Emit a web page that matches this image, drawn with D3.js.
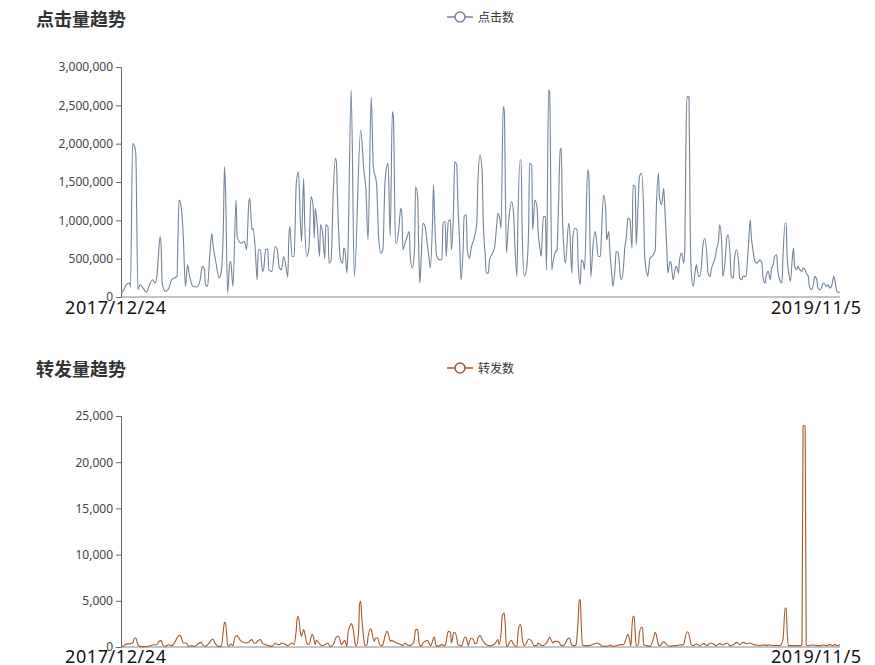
<!DOCTYPE html>
<html><head><meta charset="utf-8">
<script src="https://cdn.jsdelivr.net/npm/d3@7/dist/d3.min.js"></script>
<style>body{margin:0;background:#fff}svg{display:block}</style>
</head><body>
<svg id="c" width="875" height="665"></svg>
<script>
// ---- data (category index = days since 2017/12/24) ----
const firstDate = "2017/12/24";
const lastDate = "2019/11/5";
const dayCount = 681;
const clickTitle = "点击量趋势", clickName = "点击数";
const shareTitle = "转发量趋势", shareName = "转发数";
const clickTicks = [0,500000,1000000,1500000,2000000,2500000,3000000];
const shareTicks = [0,5000,10000,15000,20000,25000];

const clickDay = [0,2,5,8,9,11,13,14,16,18,21,24,27,30,32,34,35,37,38,39,42,45,48,53,54,55,57,59,61,63,65,68,72,75,77,79,80,82,84,86,87,90,93,95,97,98,99,101,103,104,106,109,110,112,114,117,119,121,122,124,125,127,129,130,132,134,135,137,139,140,143,146,148,150,152,154,156,158,159,160,162,164,166,168,170,171,173,174,176,178,180,182,183,184,186,188,189,191,193,194,196,197,199,201,203,204,
205,207,208,210,211,212,214,215,218,221,227,230,232,234,237,239,242,244,246,248,250,252,253,255,257,258,260,261,263,265,266,267,269,271,273,274,276,278,279,281,282,283,284,286,288,290,292,293,295,296,297,299,302,304,305,307,308,310,312,313,315,316,318,319,321,322,324,325,327,328,330,332,334,337,338,340,342,343,345,346,348,349,352,354,356,357,359,360,362,363,365,367,370,372,373,375,376,378,379,380,382,384,386,387,389,390,392,394,395,397,398,400,402,403,405,406,408,409,411,413,414,416,417,418,420,421,424,425,427,428,430,432,433,435,436,438,439,442,443,445,447,449,450,452,454,
455,457,459,460,462,463,465,466,468,469,471,473,474,476,477,479,480,482,484,485,487,488,490,491,493,495,496,498,499,501,503,504,506,507,509,510,512,514,515,517,518,520,521,523,525,526,528,529,531,533,534,535,536,538,539,540,542,544,545,547,548,550,551,553,555,556,558,559,561,563,564,566,567,569,570,572,574,575,577,578,580,581,583,585,586,588,589,592,594,596,597,599,600,602,604,605,607,608,610,611,613,615,616,618,619,621,622,624,626,627,629,630,631,633,634,636,637,638,640,641,643,645,646,648,649,651,652,654,656,657,659,660,662,664,665,667,668,670,671,673,675,676,678,679,681];
const clickVal = [60,75,160,182,130,2003,1960,1873,95,160,117,61,160,225,182,269,442,789,659,182,74,104,225,269,789,1266,1179,789,139,420,269,139,130,225,399,364,160,139,529,832,702,442,247,334,962,1699,1396,52,442,464,139,1266,789,724,702,724,616,1222,1287,876,897,659,225,616,616,334,355,616,624,355,334,659,616,377,355,529,420,260,789,919,529,529,1483,1634,962,724,1548,962,529,637,1309,1179,767,1157,919,529,941,832,507,941,919,442,485,1353,1808,1764,
1309,616,485,442,637,616,312,616,2696,269,2176,1656,1396,746,2610,1699,1483,789,572,616,1483,1721,1743,789,2415,2350,702,702,876,1157,1092,616,702,789,854,529,377,616,1439,1309,616,182,399,962,919,702,485,377,962,1461,1049,529,485,485,962,984,529,984,1006,616,1179,1764,1721,1266,616,225,616,1049,1071,616,507,659,746,962,1483,1851,1656,1049,529,312,312,485,572,659,962,1092,1006,897,2480,2436,572,962,1244,1049,702,269,1049,1786,1786,832,269,355,832,1743,1721,876,1266,1179,876,616,529,1049,1049,355,2696,2675,355,442,572,616,1006,1916,1938,1136,529,442,962,876,312,789,897,876,442,160,485,442,355,1656,1613,269,659,854,789,529,529,
789,1331,1179,746,854,616,269,139,399,594,572,269,225,399,616,832,1031,1006,637,1461,1439,680,1309,1569,1613,1136,529,312,269,507,529,551,616,1136,1613,1309,1200,1418,1179,616,312,464,442,225,377,399,312,485,572,442,616,1916,2610,2610,1049,355,139,355,420,269,269,442,659,767,529,312,269,355,442,529,616,746,941,702,269,442,789,811,529,269,247,485,616,442,247,225,269,269,616,1006,789,572,485,442,464,485,442,269,182,269,334,225,355,442,529,551,355,225,182,529,962,962,529,269,204,529,637,399,355,399,355,334,377,355,312,269,139,95,182,269,225,117,95,139,182,160,139,160,117,139,269,225,74,61,61].map(v => v * 1000);

const shareDay = [0,2,4,11,13,14,16,18,21,28,31,34,36,38,40,42,45,48,51,54,56,57,59,62,64,67,70,73,76,78,80,83,86,87,89,92,95,97,98,99,101,102,104,106,108,110,111,113,114,116,119,121,124,126,128,130,132,134,137,140,143,146,147,150,152,155,158,162,164,166,167,168,170,171,173,174,176,178,181,182,184,185,188,190,193,196,198,201,204,206,
209,210,212,214,215,217,218,220,222,223,225,226,227,228,230,231,233,234,236,237,238,240,241,243,245,247,248,250,252,253,255,256,258,261,264,267,269,271,274,275,277,278,279,281,282,283,285,286,288,290,291,293,294,296,297,298,300,304,307,308,310,312,313,315,316,318,319,323,324,326,327,329,330,332,334,335,337,338,340,341,343,346,349,353,355,357,358,360,361,363,364,365,367,368,370,371,373,375,376,378,379,380,382,384,386,389,391,394,395,397,400,403,405,406,408,409,411,413,415,417,419,421,423,425,426,428,430,431,433,434,435,436,437,439,443,446,449,451,454,455,458,462,
463,466,469,473,476,478,480,481,483,484,485,486,487,488,490,491,493,494,495,498,501,504,506,507,509,510,512,514,515,517,520,523,526,529,533,534,536,537,539,540,542,545,548,552,555,558,561,564,567,570,574,577,580,583,586,589,593,596,599,602,605,608,611,615,618,621,624,627,629,630,631,632,635,640,643,644,645,646,647,648,649,650,656,659,662,665,668,671,675,676,678,681];
const shareVal = [70,70,250,430,975,975,253,70,36,145,250,250,615,686,145,70,250,145,505,1156,1264,1084,430,430,70,145,70,361,505,145,70,361,795,867,430,70,70,1879,2674,2600,253,70,325,145,1084,1228,1084,723,614,505,430,542,795,430,430,723,795,430,253,145,70,430,325,253,430,325,145,430,253,1879,3143,3324,1517,1156,1879,1517,430,253,1337,1228,253,723,361,145,253,430,70,253,1084,1156,
253,430,723,70,1517,2312,2529,1879,253,145,1517,4697,4950,3324,795,145,253,1084,1951,1951,1337,614,975,975,253,145,253,1156,1698,1517,614,723,614,430,325,145,430,253,145,253,430,975,1879,1879,795,145,145,430,614,723,614,145,253,975,1084,253,70,253,145,614,1698,1590,430,1517,1590,975,253,145,614,1084,975,145,614,975,723,361,430,975,1228,1084,614,253,145,253,505,795,253,1517,3324,3685,2240,70,253,505,723,430,145,70,1517,2421,2240,975,145,430,867,614,145,145,430,253,145,430,867,1084,614,430,614,614,505,145,145,430,867,975,505,145,145,253,2963,5131,5022,2240,217,145,145,253,361,430,253,145,70,145,
217,70,145,253,253,795,1337,1156,145,2240,3324,3324,1517,145,253,1517,2132,2060,253,145,70,795,1590,1337,253,145,325,578,505,253,70,145,145,217,253,795,1626,1626,795,253,145,325,145,361,145,430,325,145,361,217,430,145,253,505,253,505,361,430,253,217,145,217,181,217,145,181,145,795,4227,4227,1517,145,145,145,145,145,300,23900,24000,23800,300,145,217,145,145,217,145,253,145,325,145,253];

// ---- layout ----
const svg = d3.select("#c");
const fontCJK = "'Noto Sans CJK SC','Noto Sans',sans-serif";
const fontLat = "'Noto Sans','DejaVu Sans',sans-serif";
const x = d3.scaleLinear().domain([0, dayCount]).range([121, 840]);

function panel(cfg) {
  const g = svg.append("g");
  const y = d3.scaleLinear().domain(cfg.domain).range([cfg.bottom, cfg.top]);
  // title
  g.append("text").attr("x", 36).attr("y", cfg.titleY).text(cfg.title)
    .attr("font-family", fontCJK).attr("font-size", 18).attr("font-weight", "bold").attr("fill", "#333");
  // legend
  const lg = g.append("g").attr("transform", `translate(460,${cfg.legendY})`);
  lg.append("line").attr("x1", -13).attr("x2", 13).attr("stroke", cfg.color).attr("stroke-width", 1.5);
  lg.append("circle").attr("r", 5).attr("fill", "#fff").attr("stroke", cfg.color).attr("stroke-width", 1.5);
  lg.append("text").attr("x", 18).attr("y", 4.5).text(cfg.name)
    .attr("font-family", fontCJK).attr("font-size", 12).attr("fill", "#333");
  // y axis
  const ya = g.append("g").attr("transform", "translate(121,0)")
    .call(d3.axisLeft(y).tickValues(cfg.ticks).tickFormat(d3.format(",")).tickSize(5).tickPadding(3));
  ya.select(".domain").attr("stroke", "#666");
  ya.selectAll(".tick line").attr("stroke", "#666");
  ya.selectAll(".tick text").attr("font-family", fontLat).attr("font-size", 12).attr("fill", "#444");
  // x axis line
  g.append("line").attr("x1", x(0)).attr("x2", x(dayCount)).attr("y1", y(0)).attr("y2", y(0))
    .attr("stroke", "#888").attr("stroke-width", 1);
  // x labels
  g.append("text").attr("x", x(0) - 56).attr("y", cfg.labelY).text(firstDate)
    .attr("font-family", fontLat).attr("font-size", 18).attr("fill", "#111")
    .attr("textLength", 101).attr("lengthAdjust", "spacing");
  g.append("text").attr("x", x(dayCount) + 21).attr("y", cfg.labelY).attr("text-anchor", "end").text(lastDate)
    .attr("font-family", fontLat).attr("font-size", 18).attr("fill", "#111")
    .attr("textLength", 90).attr("lengthAdjust", "spacing");
  // line
  const data = cfg.days.map((d, i) => [d, cfg.vals[i]]);
  g.append("path").datum(data)
    .attr("d", d3.line().x(d => x(d[0])).y(d => y(d[1])).curve(d3.curveMonotoneX))
    .attr("fill", "none").attr("stroke", cfg.color).attr("stroke-width", 1.1);
}

panel({title: clickTitle, name: clickName, color: "#72859a", domain: [0, 3000000], ticks: clickTicks,
  top: 67, bottom: 297, titleY: 26, legendY: 17, labelY: 314, days: clickDay, vals: clickVal});
panel({title: shareTitle, name: shareName, color: "#a45a2a", domain: [0, 25000], ticks: shareTicks,
  top: 416, bottom: 647, titleY: 376, legendY: 368, labelY: 663, days: shareDay, vals: shareVal});
</script>
</body></html>
